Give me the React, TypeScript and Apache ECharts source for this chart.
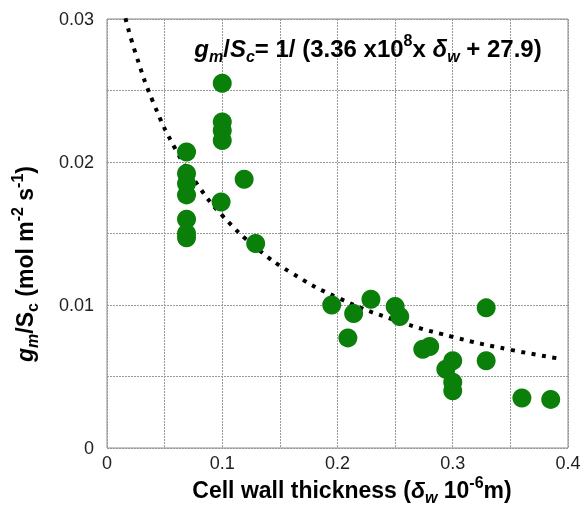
import React, { useEffect, useRef } from "react";
import * as echarts from "echarts";

// Measured points (cell wall thickness, µm ; gm/Sc, mol m-2 s-1)
const thicknessX = [
  0.1, 0.1, 0.1, 0.1, 0.069, 0.069, 0.069, 0.069, 0.119, 0.099, 0.069, 0.069, 0.069, 0.129,
  0.195, 0.214, 0.229, 0.209, 0.25, 0.254, 0.329, 0.274, 0.28, 0.3, 0.294, 0.3, 0.3, 0.329,
  0.36, 0.385,
];
const conductanceY = [
  0.0255, 0.0228, 0.0222, 0.0215, 0.0207, 0.0192, 0.0185, 0.0177, 0.0188, 0.0172, 0.016, 0.015,
  0.0147, 0.0143, 0.01, 0.0094, 0.0104, 0.0077, 0.0099, 0.0092, 0.0098, 0.0069, 0.0071, 0.0061,
  0.0055, 0.0046, 0.004, 0.0061, 0.0035, 0.0034,
];

// Fitted curve
const curveX = [0.016, 0.025, 0.04, 0.06, 0.08, 0.1, 0.13, 0.16, 0.2, 0.25, 0.3, 0.35, 0.395];
const curveY = [0.03005, 0.02755, 0.02419, 0.02081, 0.01825, 0.01626, 0.01397, 0.01225, 0.01052, 0.00894, 0.00777, 0.00687, 0.00622];

const FONT = "'Liberation Sans', Arial, Helvetica, sans-serif";

export default function App() {
  const ref = useRef<HTMLDivElement>(null);
  useEffect(() => {
    if (!ref.current) return;
    const chart = echarts.init(ref.current, null, { renderer: "svg" });
    const mk = (size: number, lh: number) => {
      const base = { fontSize: size, fontWeight: "bold", fontFamily: FONT, color: "#111", lineHeight: lh };
      const small = Math.round(size * 0.68);
      const sub = { fontSize: small, fontWeight: "bold", fontFamily: FONT, color: "#111", lineHeight: small, verticalAlign: "bottom" };
      const sup = { fontSize: small, fontWeight: "bold", fontFamily: FONT, color: "#111", lineHeight: small, verticalAlign: "top" };
      return {
        b: base,
        i: { ...base, fontStyle: "italic" },
        s: sub,
        si: { ...sub, fontStyle: "italic" },
        p: sup,
      };
    };
    const richTitle = mk(23, 31);
    const richEq = mk(24, 32);
    const points = thicknessX.map((x, i) => [x, conductanceY[i]]);
    const curve = curveX.map((x, i) => [x, curveY[i]]);
    chart.setOption({
      animation: false,
      grid: { left: 107, top: 19, right: 17, bottom: 68, show: true, borderColor: "#8a8a8a", borderWidth: 1 },
      xAxis: {
        type: "value",
        min: 0,
        max: 0.4,
        interval: 0.05,
        axisLine: { show: false },
        axisTick: { show: false },
        splitLine: { show: true, lineStyle: { color: "#999", width: 1, type: [2, 1] } },
        axisLabel: {
          fontSize: 18,
          fontFamily: FONT,
          color: "#222",
          margin: 6,
          formatter: (v: number) => {
            if (Math.abs(v) < 1e-9) return "0";
            const t = v * 10;
            return Math.abs(t - Math.round(t)) < 1e-6 ? v.toFixed(1) : "";
          },
        },
      },
      yAxis: {
        type: "value",
        min: 0,
        max: 0.03,
        interval: 0.005,
        axisLine: { show: false },
        axisTick: { show: false },
        splitLine: { show: true, lineStyle: { color: "#999", width: 1, type: [2, 1] } },
        axisLabel: {
          fontSize: 18,
          fontFamily: FONT,
          color: "#222",
          margin: 13,
          formatter: (v: number) => {
            if (Math.abs(v) < 1e-9) return "0";
            const t = v * 100;
            return Math.abs(t - Math.round(t)) < 1e-6 ? v.toFixed(2) : "";
          },
        },
      },
      series: [
        {
          type: "line",
          data: curve,
          smooth: true,
          symbol: "none",
          lineStyle: { color: "#000", width: 4, type: [4, 6.5], cap: "butt" },
          z: 3,
        },
        {
          type: "scatter",
          data: points,
          symbol: "circle",
          symbolSize: 19,
          itemStyle: { color: "#0a7f0a", opacity: 1 },
          z: 4,
        },
      ],
      graphic: [
        {
          type: "text",
          x: 368,
          y: 48,
          z: 10,
          style: {
            text: "{i|g}{si|m}{b|/}{i|S}{si|c}{b|= 1/ (3.36 x10}{p|8}{b|x }{i|δ}{si|w}{b| + 27.9)}",
            rich: richEq,
            align: "center",
            verticalAlign: "middle",
          },
        },
        {
          type: "text",
          x: 352,
          y: 490,
          style: {
            text: "{b|Cell wall thickness (}{i|δ}{si|w}{b| 10}{p|-6}{b|m)}",
            rich: richTitle,
            align: "center",
            verticalAlign: "middle",
          },
        },
        {
          type: "text",
          x: 25,
          y: 264,
          rotation: Math.PI / 2,
          style: {
            text: "{i|g}{si|m}{b|/S}{s|c}{b| (mol m}{p|-2}{b| s}{p|-1}{b|)}",
            rich: richTitle,
            align: "center",
            verticalAlign: "middle",
          },
        },
      ],
    });
    return () => chart.dispose();
  }, []);
  return <div ref={ref} style={{ position: "fixed", left: 0, top: 0, width: 585, height: 516 }} />;
}
